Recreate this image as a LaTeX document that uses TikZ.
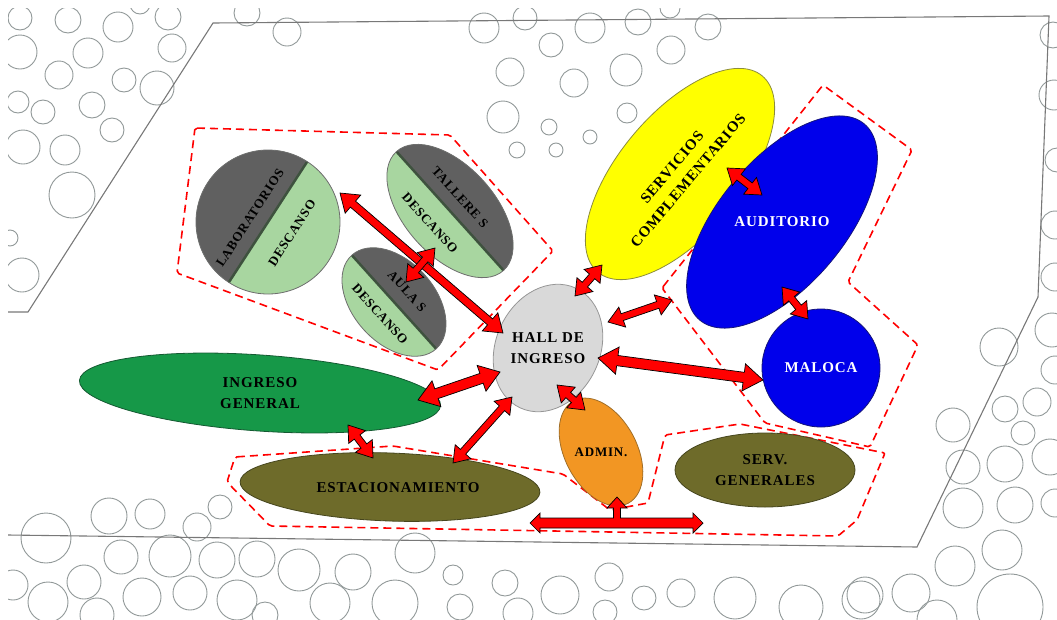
\documentclass[tikz,border=0pt]{standalone}
\usepackage{fontspec}
\setmainfont{Liberation Serif}[LetterSpace=6]
\usetikzlibrary{shapes.geometric,shapes.arrows,calc}

\definecolor{labgray}{RGB}{96,96,96}
\definecolor{restgreen}{RGB}{168,214,160}
\definecolor{splitline}{RGB}{62,82,62}
\definecolor{roomedge}{RGB}{110,110,110}
\definecolor{hallgray}{RGB}{217,217,217}
\definecolor{halledge}{RGB}{150,150,150}
\definecolor{servyellow}{RGB}{255,255,0}
\definecolor{servedge}{RGB}{140,140,60}
\definecolor{audblue}{RGB}{0,0,235}
\definecolor{audedge}{RGB}{20,20,120}
\definecolor{ingreen}{RGB}{22,152,72}
\definecolor{ingedge}{RGB}{20,90,50}
\definecolor{parkolive}{RGB}{110,107,42}
\definecolor{parkedge}{RGB}{70,70,30}
\definecolor{admorange}{RGB}{242,150,35}
\definecolor{admedge}{RGB}{160,110,40}
\definecolor{treegray}{RGB}{145,152,152}
\definecolor{lotgray}{RGB}{120,120,120}

\tikzset{
  room/.style={ellipse, inner sep=0pt, line width=0.8pt},
  roomtext/.style={font=\bfseries\fontsize{15}{21}\selectfont, align=center},
  smalltext/.style={font=\bfseries\fontsize{13}{15}\selectfont},
  sector/.style={red, line width=1.6pt, dash pattern=on 8pt off 5pt, rounded corners=2pt},
  treeline/.style={draw=treegray, line width=0.9pt},
  lotline/.style={draw=lotgray, line width=1.1pt},
  dblarrow/.style={double arrow, draw=black, fill=red, line width=0.7pt, inner sep=3.2pt,
    double arrow head extend=7pt, double arrow tip angle=70},
  midarrow/.style={dblarrow, inner sep=3.6pt, double arrow head extend=8pt},
  bigarrow/.style={dblarrow, inner sep=4.8pt, double arrow head extend=8.5pt},
}

% room cut in two halves: name, x, y, a, b, angle
\newcommand\splitroom[6]{%
  \begin{scope}[shift={(#2,#3)}, rotate=#6]
    \fill[restgreen] (0,0) ellipse [x radius=#4, y radius=#5];
    \clip (0,0) ellipse [x radius=#4, y radius=#5];
    \fill[labgray] (-#4,0) rectangle (#4,-#5);
    \draw[splitline, line width=2.5pt] (-#4,0) -- (#4,0);
  \end{scope}
  \node[room, draw=roomedge, minimum width=2*#4, minimum height=2*#5, rotate=#6] (#1) at (#2,#3) {};
}

% block arrow with two heads between two points
\newcommand\linkarrow[3][dblarrow]{%
  \path let \p1=#2, \p2=#3,
    \n1={atan2(\y2-\y1,\x2-\x1)}, \n2={veclen(\x2-\x1,\y2-\y1)} in
    node[#1, rotate=\n1, minimum height=\n2] at ($(\p1)!0.5!(\p2)$) {};}

\begin{document}
\begin{tikzpicture}[x=1pt,y=-1pt]

\useasboundingbox (0,0) rectangle (1057,619);
\clip (8,8) rectangle (1057,619);

% ===== arboles =====
\foreach \x/\y/\r in {20/18/12, 68/20/13, 118/27/15, 140/4/10, 168/17/13, 20/52/17,
    88/53/15, 172/48/14, 59/75/14, 124/80/12, 157/88/17, 18/102/11, 43/112/12,
    92/105/13, 112/130/12, 23/147/17, 65/150/15, 72/195/23, 10/238/8, 22/275/17,
    247/13/13, 287/32/14,
    484/28/15, 525/18/12, 551/45/12, 590/28/15, 638/22/13, 670/8/10, 708/27/13,
    510/72/14, 574/83/14, 626/70/16, 671/50/14, 503/117/16, 549/127/8, 590/137/7,
    627/113/10, 517/150/8, 556/150/7,
    1053/35/13, 1054/95/15, 1057/160/12, 1055/225/14, 1055/277/14, 1052/330/17,
    999/347/19, 1055/370/14, 1005/409/13, 1037/402/14, 953/425/17, 1023/433/12,
    1050/457/18, 963/467/17, 1005/464/18, 1015/505/18, 963/508/20, 1055/503/14,
    1002/550/20, 955/566/20, 911/593/19, 865/595/18, 1010/607/33, 937/620/20,
    46/538/25, 109/516/18, 150/514/15, 197/527/14, 220/507/12, 121/557/17,
    170/556/21, 217/560/18, 257/559/18, 299/570/21, 353/572/18, 415/553/20,
    453/575/10, 13/585/15, 84/582/17, 48/602/20, 97/615/17, 142/597/19,
    190/593/17, 237/600/20, 265/615/13, 330/603/20, 395/603/23, 460/607/13,
    505/583/13, 560/595/19, 609/577/14, 644/598/12, 681/593/14, 735/598/21,
    801/607/22, 861/600/19, 518/613/15, 605/612/12} {
    \draw[treeline] (\x,\y) circle [radius=\r];
}

% ===== lote =====
\draw[lotline] (8,312) -- (28,312) -- (213,23) -- (1049,16) -- (1038,297)
    -- (917,547) -- (8,535);

% ===== zonas =====
\draw[sector] (195,128) -- (450,135) -- (553,251) -- (438,370) -- (177,273) -- cycle;
\draw[sector] (662,288) -- (823,85) -- (912,150) -- (848,282) -- (918,345)
    -- (870,447) -- (765,423) -- cycle;
\draw[sector] (235,457) -- (393,446) -- (563,474) -- (610,510) -- (648,503)
    -- (665,435) -- (740,424) -- (885,453) -- (857,520) -- (838,536)
    -- (270,526) -- (227,482) -- cycle;

% ===== espacios =====
\splitroom{labs}{268}{222}{72}{72}{57}
\splitroom{talleres}{450}{211}{80}{45}{-48}
\splitroom{aulas}{394}{302}{63}{41}{-48}

\node[room, draw=halledge, fill=hallgray, minimum width=132, minimum height=104, rotate=65] (hall) at (548,348) {};
\node[room, draw=servedge, fill=servyellow, minimum width=256, minimum height=122, rotate=50, roomtext] (serv) at (680,174) {SERVICIOS\\COMPLEMENTARIOS};
\node[room, draw=audedge, fill=audblue, minimum width=256, minimum height=126, rotate=50] (aud) at (782,222) {};
\node[room, draw=audedge, fill=audblue, minimum width=118, minimum height=118] (maloca) at (821,368) {};
\node[room, draw=ingedge, fill=ingreen, minimum width=362, minimum height=76, rotate=-4] (ingreso) at (260,393) {};
\node[room, draw=parkedge, fill=parkolive, minimum width=300, minimum height=68, rotate=-2] (estac) at (390,487) {};
\node[room, draw=parkedge, fill=parkolive, minimum width=180, minimum height=74] (servg) at (765,470) {};
\node[room, draw=admedge, fill=admorange, minimum width=116, minimum height=72, rotate=-62] (admin) at (601,452) {};

% ===== textos =====
\node[smalltext, rotate=57] at (250,218) {LABORATORIOS};
\node[smalltext, rotate=57] at (292,233) {DESCANSO};
\node[smalltext, rotate=-48] at (460,197) {TALLERE S};
\node[smalltext, rotate=-48] at (430,223) {DESCANSO};
\node[smalltext, rotate=-48] at (407,291) {AULA S};
\node[smalltext, rotate=-48] at (380,314) {DESCANSO};

\node[roomtext] at (hall) {HALL DE\\INGRESO};
\node[roomtext, white] at (aud) {AUDITORIO};
\node[roomtext, white] at (maloca) {MALOCA};
\node[roomtext] at (ingreso) {INGRESO\\GENERAL};
\node[roomtext] at (398,488) {ESTACIONAMIENTO};
\node[roomtext] at (servg) {SERV.\\GENERALES};
\node[smalltext] at (admin) {ADMIN.};

% ===== relaciones =====
\coordinate (audgate) at (672,300);

\linkarrow[midarrow]{($(labs)+(72,-29)$)}{($(hall)+(-45,-15)$)}
\linkarrow{($(talleres)+(-15,37)$)}{($(aulas)+(12,-20)$)}
\linkarrow{($(serv)+(-78,91)$)}{($(hall)+(27,-52)$)}
\linkarrow{($(serv)+(47,-6)$)}{($(aud)+(-20,-27)$)}
\linkarrow{($(hall)+(60,-26)$)}{(audgate)}
\linkarrow{($(aud)+(0,65)$)}{($(maloca)+(-13,-49)$)}
\linkarrow[bigarrow]{($(hall)+(50,10)$)}{($(maloca)+(-58,12)$)}
\linkarrow[bigarrow]{($(ingreso)+(158,7)$)}{($(hall)+(-48,24)$)}
\linkarrow{($(estac)+(63,-24)$)}{($(hall)+(-36,49)$)}
\linkarrow{($(ingreso)+(88,32)$)}{($(estac)+(-17,-29)$)}
\linkarrow{($(hall)+(9,37)$)}{($(admin)+(-16,-42)$)}

% flecha en T bajo administracion
\begin{scope}[shift={(617,523)}]
  \filldraw[fill=red, draw=black, line width=0.7pt]
    (-87,0) -- (-77,-10) -- (-77,-5) -- (-3.5,-5) -- (-3.5,-15) -- (-10,-15)
    -- (0,-26) -- (10,-15) -- (3.5,-15) -- (3.5,-5) -- (76,-5) -- (76,-10)
    -- (86,0) -- (76,10) -- (76,5) -- (-77,5) -- (-77,10) -- cycle;
\end{scope}

\end{tikzpicture}
\end{document}
